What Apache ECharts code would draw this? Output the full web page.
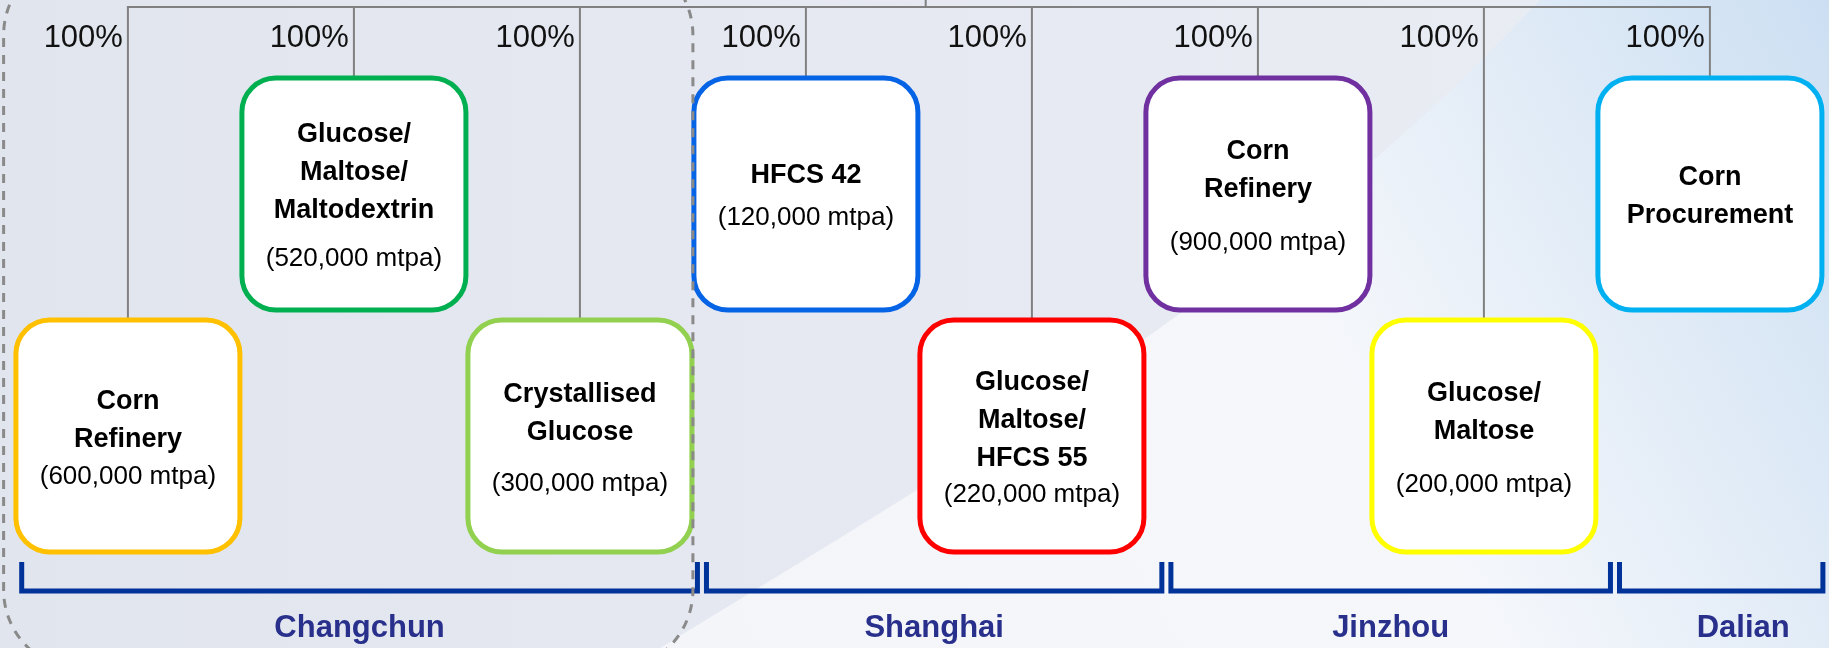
<!doctype html>
<html>
<head>
<meta charset="utf-8">
<title>Corn processing sites</title>
<script src="https://cdn.jsdelivr.net/npm/echarts@6/dist/echarts.min.js"></script>
<style>
html, body { margin: 0; padding: 0; }
#chart { width: 1829px; height: 648px; }
</style>
</head>
<body>
<div id="chart"></div>
<script type="text/javascript">
// ---- data ----
var rows = ['upper', 'lower'];
var boxTitles = [
    ['Corn', 'Refinery'],
    ['Glucose/', 'Maltose/', 'Maltodextrin'],
    ['Crystallised', 'Glucose'],
    ['HFCS 42'],
    ['Glucose/', 'Maltose/', 'HFCS 55'],
    ['Corn', 'Refinery'],
    ['Glucose/', 'Maltose'],
    ['Corn', 'Procurement']
];
var boxCapacity = ['600,000', '520,000', '300,000', '120,000', '220,000', '900,000', '200,000', null];
var boxRow = ['lower', 'upper', 'lower', 'upper', 'lower', 'upper', 'lower', 'upper'];
var boxStake = ['100%', '100%', '100%', '100%', '100%', '100%', '100%', '100%'];
var cityNames = ['Changchun', 'Shanghai', 'Jinzhou', 'Dalian'];
var cityFirstBox = [0, 3, 5, 7];
var cityLastBox = [2, 4, 6, 7];

// ---- styles / layout ----
var boxColors = ['#FFC000', '#00B050', '#92D050', '#0563E6', '#FF0000', '#7030A0', '#FFFF00', '#00B0F0'];
var capGap = [37, 48, 51, 42, 36, 53, 53, 0];
var bracketPad = [[-0.47, 0.52], [-0.44, 0.575], [-0.385, 0.56], [-0.40, 0.5]];
var cityShift = [0, 0, 0, 22];
var FONT = '"Liberation Sans", Arial, sans-serif';
var BOX_W = 224, BOX_H = 232, LINE_H = 38;
var TRUNK_Y = 7, BRACKET_TOP = 562, BRACKET_BOTTOM = 591, CITY_Y = 628;
var LINE_GREY = '#808080';

var boxData = boxRow.map(function (r, i) { return [i, r]; });
var cityData = cityNames.map(function (n, k) { return [cityFirstBox[k], cityLastBox[k], 'lower']; });

// background swoosh outline (decoration only)
function swooshPoints() {
    var p0 = [660, 648], p1 = [950, 470], p2 = [1280, 280], p3 = [1540, 0];
    var pts = [];
    for (var t = 0; t <= 1.0001; t += 0.05) {
        var u = 1 - t;
        pts.push([
            u * u * u * p0[0] + 3 * u * u * t * p1[0] + 3 * u * t * t * p2[0] + t * t * t * p3[0],
            u * u * u * p0[1] + 3 * u * u * t * p1[1] + 3 * u * t * t * p2[1] + t * t * t * p3[1]
        ]);
    }
    pts.push([1829, 0], [1829, 648]);
    return pts;
}

function renderConnector(params, api) {
    var c = api.coord([api.value(0), api.value(1)]);
    var i = params.dataIndex;
    var kids = [
        { type: 'line', shape: { x1: c[0], y1: TRUNK_Y, x2: c[0], y2: c[1] - BOX_H / 2 },
          style: { stroke: LINE_GREY, lineWidth: 2 } },
        { type: 'text', style: { text: boxStake[i], x: c[0] - 5, y: 38, align: 'right', verticalAlign: 'middle',
          font: '31px ' + FONT, fill: '#111' } }
    ];
    if (i === 0) {
        var a = api.coord([0, 0]), b = api.coord([boxRow.length - 1, 0]);
        var mid = api.coord([(boxRow.length - 1) / 2 + 0.03, 0]);
        kids.push({ type: 'line', shape: { x1: a[0] - 1, y1: TRUNK_Y, x2: b[0] + 1, y2: TRUNK_Y },
            style: { stroke: LINE_GREY, lineWidth: 2 } });
        kids.push({ type: 'line', shape: { x1: mid[0], y1: 0, x2: mid[0], y2: TRUNK_Y },
            style: { stroke: LINE_GREY, lineWidth: 2 } });
    }
    return { type: 'group', children: kids };
}

function renderBox(params, api) {
    var i = params.dataIndex;
    var c = api.coord([api.value(0), api.value(1)]);
    var titles = boxTitles[i];
    var kids = [{
        type: 'rect',
        shape: { x: c[0] - BOX_W / 2, y: c[1] - BOX_H / 2, width: BOX_W, height: BOX_H, r: 34 },
        style: { fill: '#fff', stroke: boxColors[i], lineWidth: 5 }
    }];
    var span = (titles.length - 1) * LINE_H + (boxCapacity[i] ? capGap[i] : 0);
    var y = c[1] + 3 - span / 2;
    titles.forEach(function (t, k) {
        kids.push({ type: 'text', style: { text: t, x: c[0], y: y + k * LINE_H, align: 'center',
            verticalAlign: 'middle', font: 'bold 27px ' + FONT, fill: '#000' } });
    });
    if (boxCapacity[i]) {
        kids.push({ type: 'text', style: { text: '(' + boxCapacity[i] + ' mtpa)', x: c[0],
            y: y + (titles.length - 1) * LINE_H + capGap[i], align: 'center', verticalAlign: 'middle',
            font: '26px ' + FONT, fill: '#000' } });
    }
    return { type: 'group', children: kids };
}

function renderCity(params, api) {
    var k = params.dataIndex;
    var l = api.coord([api.value(0) + bracketPad[k][0], 1])[0];
    var r = Math.min(api.coord([api.value(1) + bracketPad[k][1], 1])[0], 1826);
    return { type: 'group', children: [
        { type: 'polyline', shape: { points: [[l, BRACKET_TOP], [l, BRACKET_BOTTOM], [r, BRACKET_BOTTOM], [r, BRACKET_TOP]] },
          style: { stroke: '#003399', lineWidth: 5, fill: null, lineJoin: 'miter' } },
        { type: 'text', style: { text: cityNames[k], x: (l + r) / 2 + cityShift[k], y: CITY_Y, align: 'center',
          verticalAlign: 'middle', font: 'bold 31px ' + FONT, fill: '#28308C' } }
    ] };
}

function renderOutline(params, api) {
    var l = api.coord([api.value(0) - 0.55, 1])[0];
    var r = api.coord([api.value(1) + 0.5, 1])[0];
    return { type: 'rect', shape: { x: l, y: -45, width: r - l, height: 715, r: 80 },
        style: { fill: null, stroke: '#8a8a8a', lineWidth: 3, lineDash: [9, 8] } };
}

var option = {
    animation: false,
    graphic: [
        { type: 'rect', z: -100, silent: true, shape: { x: 0, y: 0, width: 1829, height: 648 },
          style: { fill: {
              type: 'linear', x: 0, y: 0, x2: 1, y2: 0,
              colorStops: [{ offset: 0, color: '#E1E5EE' }, { offset: 0.5, color: '#E6E9F1' }, { offset: 1, color: '#E9EDF4' }]
          } } },
        { type: 'polygon', z: -99, silent: true,
          shape: { points: swooshPoints() },
          style: { fill: {
              type: 'linear', x: 0, y: 1, x2: 1, y2: 0,
              colorStops: [{ offset: 0, color: '#F3F5F9' }, { offset: 0.55, color: '#F5F7FB' }, { offset: 1, color: '#CCDFF2' }]
          } } }
    ],
    grid: { left: 0, right: 0, top: 73, bottom: 91 },
    xAxis: { type: 'value', min: -0.566, max: 7.527, show: false },
    yAxis: { type: 'category', data: rows, inverse: true, show: false },
    series: [
        { type: 'custom', name: 'links', renderItem: renderConnector, data: boxData, encode: { x: 0, y: 1 }, z: 2 },
        { type: 'custom', name: 'units', renderItem: renderBox, data: boxData, encode: { x: 0, y: 1 }, z: 3 },
        { type: 'custom', name: 'cities', renderItem: renderCity, data: cityData, encode: { x: [0, 1], y: 2 }, z: 3 },
        { type: 'custom', name: 'outline', renderItem: renderOutline, data: cityData.slice(0, 1), encode: { x: [0, 1], y: 2 }, z: 4 }
    ]
};

var myChart = echarts.init(document.getElementById('chart'));
myChart.setOption(option);
</script>
</body>
</html>
